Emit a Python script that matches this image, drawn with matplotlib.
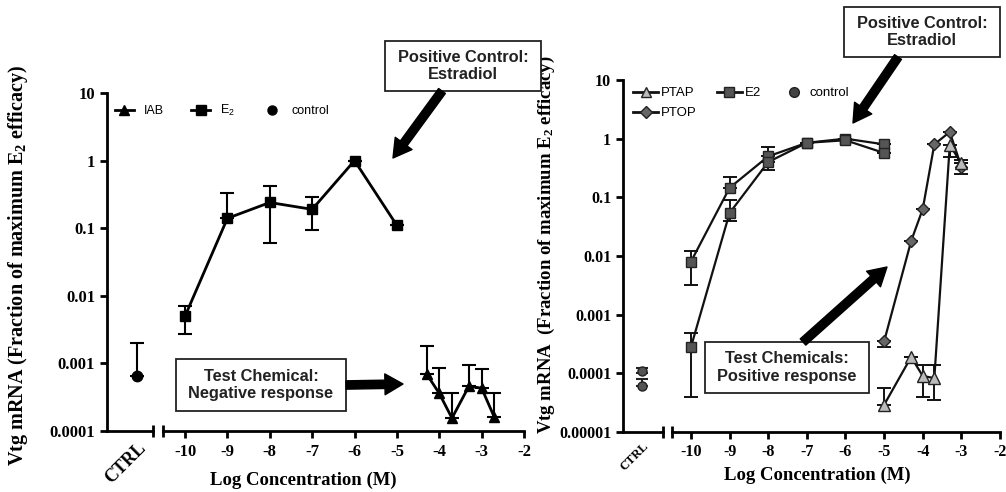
import numpy as np
import matplotlib
matplotlib.use("Agg")
import matplotlib.pyplot as plt
from matplotlib.lines import Line2D
from matplotlib.patches import Rectangle

plt.rcParams['font.family'] = ['Liberation Serif', 'DejaVu Serif']
plt.rcParams['mathtext.default'] = 'regular'

# ---- left panel data (IAB, negative) ----
ctrl_l_y = [0.00065]
ctrl_l_lo = [0.00065]
ctrl_l_hi = [0.002]

e2_l_x = [-10, -9, -8, -7, -6, -5]
e2_l_y = [0.005, 0.14, 0.24, 0.19, 1.0, 0.11]
e2_l_lo = [0.0027, 0.14, 0.06, 0.095, 1.0, 0.11]
e2_l_hi = [0.007, 0.33, 0.42, 0.29, 1.0, 0.11]

iab_x = [-4.3, -4.0, -3.7, -3.3, -3.0, -2.7]
iab_y = [0.0007, 0.00036, 0.000155, 0.00046, 0.00043, 0.00016]
iab_hi = [0.0018, 0.00085, 0.00036, 0.00096, 0.00082, 0.00036]

# ---- right panel data (PTAP / PTOP, positive) ----
ctrl_r_y = [0.00011, 0.00006]
ctrl_r_lo = [0.0001, 0.00006]
ctrl_r_hi = [0.000125, 0.00008]

e2a_x = [-10, -9, -8, -7, -6, -5]
e2a_y = [0.008, 0.145, 0.5, 0.85, 1.0, 0.8]
e2a_lo = [0.0032, 0.145, 0.5, 0.85, 1.0, 0.8]
e2a_hi = [0.012, 0.22, 0.72, 0.85, 1.0, 0.8]

e2b_x = [-10, -9, -8, -7, -6, -5]
e2b_y = [0.00028, 0.054, 0.4, 0.85, 0.94, 0.57]
e2b_lo = [0.00004, 0.04, 0.29, 0.85, 0.94, 0.57]
e2b_hi = [0.00049, 0.09, 0.4, 0.85, 0.94, 0.57]

ptop_x = [-5, -4.3, -4.0, -3.7, -3.3, -3.0]
ptop_y = [0.00035, 0.018, 0.063, 0.8, 1.3, 0.33]
ptop_lo = [0.00028, 0.018, 0.063, 0.8, 1.3, 0.25]
ptop_hi = [0.00035, 0.018, 0.063, 0.8, 1.3, 0.43]

ptap_x = [-5, -4.3, -4.0, -3.7, -3.3, -3.0]
ptap_y = [0.000029, 0.00019, 0.00009, 0.000083, 0.78, 0.38]
ptap_lo = [0.000029, 0.00019, 0.00004, 0.000035, 0.48, 0.38]
ptap_hi = [0.000056, 0.00019, 0.00014, 0.00014, 0.78, 0.38]

xticks = [-10, -9, -8, -7, -6, -5, -4, -3, -2]

W, H = 1006, 492
fig = plt.figure(figsize=(W / 100, H / 100), dpi=100)


def rect(x0, x1, ytop, ybot):
    return [x0 / W, (H - ybot) / H, (x1 - x0) / W, (ybot - ytop) / H]


def panel(ctrl_px, main_px, ytop, ybot, ymin, xlim, ctrl_x, tick_fs, ctrl_fs):
    axc = fig.add_axes(rect(ctrl_px[0], ctrl_px[1], ytop, ybot))
    axm = fig.add_axes(rect(main_px[0], main_px[1], ytop, ybot), sharey=axc)
    axc.set_yscale('log')
    axc.set_ylim(ymin, 10)
    yt = [10.0 ** k for k in range(int(round(np.log10(ymin))), 2)]
    axc.set_yticks(yt)
    axc.set_yticklabels([('%.6f' % v).rstrip('0').rstrip('.') for v in yt])
    axc.minorticks_off()
    axc.set_xlim(0, 1)
    axc.set_xticks([ctrl_x])
    axc.set_xticklabels(['CTRL'], rotation=45, ha='right', va='top',
                        rotation_mode='anchor', fontsize=ctrl_fs, fontweight='bold')
    for s in ['top', 'right']:
        axc.spines[s].set_visible(False)
    for s in ['left', 'bottom']:
        axc.spines[s].set_linewidth(2)
    axc.tick_params(axis='y', length=5, width=2, labelsize=tick_fs)
    axc.tick_params(axis='x', length=0, pad=6)
    for lab in axc.get_yticklabels():
        lab.set_fontweight('bold')

    axm.set_xlim(*xlim)
    axm.set_xticks(xticks)
    axm.set_xticklabels(['%d' % t for t in xticks], fontsize=tick_fs, fontweight='bold')
    for s in ['top', 'right', 'left']:
        axm.spines[s].set_visible(False)
    axm.spines['bottom'].set_linewidth(2)
    axm.tick_params(axis='x', length=5, width=2, pad=4)
    axm.tick_params(axis='y', which='both', left=False, labelleft=False)
    axm.minorticks_off()

    # axis break marks
    axc.plot([1], [0], marker='|', ms=9, mew=2, color='k',
             transform=axc.transAxes, clip_on=False)
    axm.plot([0], [0], marker='|', ms=9, mew=2, color='k',
             transform=axm.transAxes, clip_on=False)
    axc.patch.set_alpha(0)
    axm.patch.set_alpha(0)
    return axc, axm


def err(y, lo, hi):
    y = np.array(y)
    return [y - np.array(lo), np.array(hi) - y]


# ---------------- left panel ----------------
axc1, axm1 = panel((107, 153), (163, 524), 93, 431, 1e-4, (-10.52, -2.0), 0.65, 12, 13)

axc1.errorbar([0.65], ctrl_l_y, yerr=err(ctrl_l_y, ctrl_l_lo, ctrl_l_hi), fmt='o',
              color='k', ms=7.5, capsize=5, elinewidth=1.5, capthick=1.5, clip_on=False)
axm1.errorbar(e2_l_x, e2_l_y, yerr=err(e2_l_y, e2_l_lo, e2_l_hi), fmt='-s', color='k',
              ms=7.5, lw=2, capsize=5, elinewidth=1.5, capthick=1.5, clip_on=False)
axm1.errorbar(iab_x, iab_y, yerr=err(iab_y, iab_y, iab_hi), fmt='-^', color='k',
              ms=7.5, lw=2, capsize=5, elinewidth=1.5, capthick=1.5, clip_on=False)

h1 = [Line2D([], [], color='k', marker='^', lw=2, ms=6.5),
      Line2D([], [], color='k', marker='s', lw=2, ms=6.5),
      Line2D([], [], color='k', marker='o', lw=0, ms=6.5)]
fig.legend(h1, ['IAB', 'E$_2$', 'control'], loc='upper left',
           bbox_to_anchor=(115 / W, 1 - 103 / H), ncol=3, frameon=False,
           handlelength=1.5, handletextpad=0.8, columnspacing=2.2,
           borderpad=0, borderaxespad=0,
           prop={'family': 'Liberation Sans', 'size': 9})

# ---------------- right panel ----------------
axc2, axm2 = panel((623, 663), (672, 1000), 80, 432, 1e-5, (-10.49, -2.0), 0.475, 11.5, 9)

axc2.errorbar([0.475, 0.475], ctrl_r_y, yerr=err(ctrl_r_y, ctrl_r_lo, ctrl_r_hi), fmt='o',
              color='#222', mfc='#555', mec='#222', ms=6.5, capsize=4, elinewidth=1.5,
              capthick=1.5, clip_on=False)
kw = dict(lw=1.6, capsize=5, elinewidth=1.4, capthick=1.4, clip_on=False, color='#111')
axm2.errorbar(e2a_x, e2a_y, yerr=err(e2a_y, e2a_lo, e2a_hi), fmt='-s', ms=7.5,
              mfc='#555', mec='#222', **kw)
axm2.errorbar(e2b_x, e2b_y, yerr=err(e2b_y, e2b_lo, e2b_hi), fmt='-s', ms=7.5,
              mfc='#555', mec='#222', **kw)
axm2.errorbar(ptop_x, ptop_y, yerr=err(ptop_y, ptop_lo, ptop_hi), fmt='-D', ms=6.5,
              mfc='#666', mec='#222', **kw)
axm2.errorbar(ptap_x, ptap_y, yerr=err(ptap_y, ptap_lo, ptap_hi), fmt='-^', ms=8.5,
              mfc='#bbb', mec='#222', **kw)

h2 = [Line2D([], [], color='#111', marker='^', lw=2, ms=7, mfc='#bbb', mec='#222'),
      Line2D([], [], color='#111', marker='D', lw=2, ms=6, mfc='#666', mec='#222'),
      Line2D([], [], color='#111', marker='s', lw=2, ms=7, mfc='#555', mec='#222'),
      Line2D([], [], color='#111', marker='o', lw=0, ms=7, mfc='#444', mec='#222')]
fig.legend(h2, ['PTAP', 'PTOP', 'E2', 'control'], loc='upper left',
           bbox_to_anchor=(633 / W, 1 - 87 / H), ncol=3, frameon=False,
           handlelength=1.9, handletextpad=0.25, columnspacing=1.5, labelspacing=0.6,
           borderpad=0, borderaxespad=0,
           prop={'family': 'Liberation Sans', 'size': 9.5})

# ---------------- labels ----------------
fig.text(18 / W, 1 - 265 / H, 'Vtg mRNA (Fraction of maximum E$_2$ efficacy)',
         rotation=90, ha='center', va='center', fontsize=14.5, fontweight='bold')
fig.text(546 / W, 1 - 245 / H, 'Vtg mRNA  (Fraction of maximum E$_2$ efficacy)',
         rotation=90, ha='center', va='center', fontsize=13.5, fontweight='bold')
fig.text(303 / W, 1 - 480 / H, 'Log Concentration (M)', ha='center', va='center',
         fontsize=13.5, fontweight='bold')
fig.text(817 / W, 1 - 475 / H, 'Log Concentration (M)', ha='center', va='center',
         fontsize=13.5, fontweight='bold')

# ---------------- annotations (overlay in pixel coords) ----------------
ov = fig.add_axes([0, 0, 1, 1], zorder=10)
ov.set_xlim(0, W)
ov.set_ylim(H, 0)
ov.axis('off')
ov.patch.set_alpha(0)

boxes = [((385, 41, 541, 91), 'Positive Control:\nEstradiol'),
         ((176, 359, 346, 411), 'Test Chemical:\nNegative response'),
         ((844, 7, 1000, 57), 'Positive Control:\nEstradiol'),
         ((705, 342, 869, 393), 'Test Chemicals:\nPositive response')]
for (x0, y0, x1, y1), txt in boxes:
    ov.add_patch(Rectangle((x0, y0), x1 - x0, y1 - y0, fill=True, fc='white',
                           ec='#222', lw=1.3))
    ov.text((x0 + x1) / 2, (y0 + y1) / 2, txt, ha='center', va='center',
            family='Liberation Sans', fontweight='bold', fontsize=11.8,
            color='#222', linespacing=1.2)

arrows = [((442, 91), (393, 158)),
          ((346, 385), (403, 384)),
          ((898, 57), (853, 123)),
          ((803, 342), (887, 267))]
for tail, tip in arrows:
    ov.annotate('', xy=tip, xytext=tail,
                arrowprops=dict(facecolor='black', edgecolor='black', width=6,
                                headwidth=15, headlength=13, shrink=0))

fig.savefig('out.png', dpi=100)
